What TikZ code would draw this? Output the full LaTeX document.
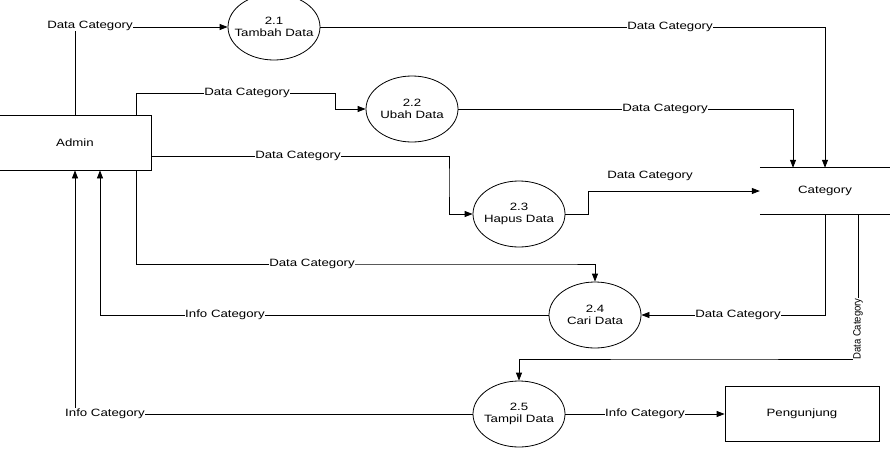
\documentclass[tikz,border=0pt]{standalone}
\usepackage{fontspec}
\setmainfont{Liberation Sans}
\newfontfamily\labfont{Liberation Sans}[FakeStretch=1.25]
\newfontfamily\rotfont{Liberation Sans}[FakeStretch=0.9]
\usetikzlibrary{shapes.geometric,arrows.meta,calc}
\begin{document}
\begin{tikzpicture}[x=1pt,y=-1pt,
  every node/.style={font=\labfont\fontsize{10.6}{12}\selectfont},
  proc/.style={ellipse,draw,line width=0.8pt,minimum width=92pt,minimum height=66pt,inner sep=-15pt,align=center},
  ent/.style={rectangle,draw,line width=0.8pt,inner sep=0pt},
  lbl/.style={fill=white,inner sep=0.6pt},
  flow/.style={line width=0.8pt,-{Triangle[length=8pt,width=6pt]}},
  plain/.style={line width=0.8pt}]
\useasboundingbox (0,0) rectangle (890,450);
\fill[white] (0,0) rectangle (890,450);
\clip (0,0) rectangle (890,450);
% nodes
\node[ent,minimum width=152pt,minimum height=55pt] (admin) at (75,142.5) {Admin};
\node[proc] (t1) at (274,27) {2.1\\Tambah Data};
\node[proc] (t2) at (412,109) {2.2\\Ubah Data};
\node[proc] (t3) at (519,214) {2.3\\Hapus Data};
\node[proc] (t4) at (595,315) {2.4\\Cari Data};
\node[proc] (t5) at (519,414) {2.5\\Tampil Data};
\node[minimum width=130pt,minimum height=46pt,inner sep=0pt] (cat) at (825,191) {Category};
\draw[plain] (cat.north west) -- (cat.north east);
\draw[plain] (cat.south west) -- (cat.south east);
\node[ent,minimum width=154pt,minimum height=55pt] (peng) at (802,414) {Pengunjung};
% flows
\draw[flow] (admin.north) |- (t1.west);
\draw[flow] (t1.east) -| (cat.north);
\draw[flow] ([xshift=-15pt]admin.north east) |- (335,93) |- (t2.west);
\draw[flow] (t2.east) -| ([xshift=-32pt]cat.north);
\draw[flow] ([yshift=-13.5pt]admin.east) -| (449,180) |- (t3.west);
\draw[flow] (t3.east) -| (588,200) |- (cat.west);
\draw[flow] ([xshift=-15pt]admin.south east) |- (560,264) -| (t4.north);
\draw[flow] (t4.west) -| ([xshift=25pt]admin.south);
\draw[flow] (cat.south) |- (t4.east);
\draw[flow] ([xshift=33pt]cat.south) |- (700,359) -| (t5.north);
\draw[flow] (t5.west) -| (admin.south);
\draw[flow] (t5.east) -- (peng.west);
% labels
\node[lbl] at (90,26) {Data Category};
\node[lbl] at (670,27) {Data Category};
\node[lbl] at (247,93) {Data Category};
\node[lbl] at (665,109) {Data Category};
\node[lbl] at (298,156) {Data Category};
\node at (650,176) {Data Category};
\node[lbl] at (312,264) {Data Category};
\node[lbl] at (225,315) {Info Category};
\node[lbl] at (738,315) {Data Category};
\node[lbl,rotate=90,font=\rotfont\fontsize{10.6}{12}\selectfont] at (858,329) {Data Category};
\node[lbl] at (105,414) {Info Category};
\node[lbl] at (645,414) {Info Category};
\end{tikzpicture}
\end{document}
